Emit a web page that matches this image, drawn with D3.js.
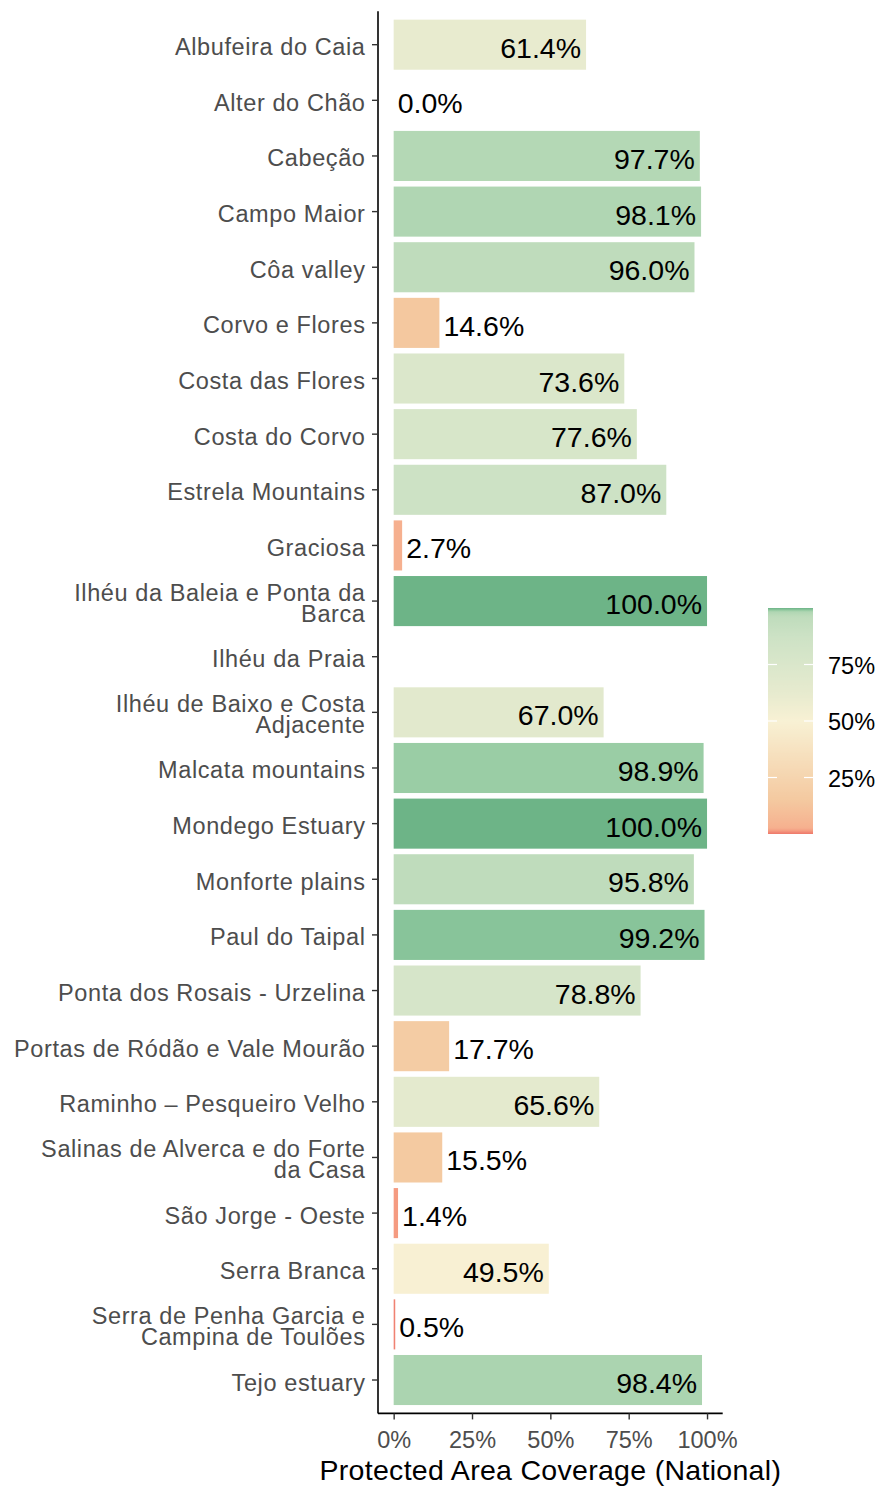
<!DOCTYPE html>
<html>
<head>
<meta charset="utf-8">
<style>
body { margin: 0; background: #ffffff; }
svg { font-family: "Liberation Sans", Arial, sans-serif; }
.axis path, .axis line { fill: none; }
.ylab { fill: #4d4d4d; font-size: 23.5px; letter-spacing: 0.6px; }
.xlab { fill: #4d4d4d; font-size: 23.5px; }
.val { fill: #000000; font-size: 28.5px; }
.title { fill: #000000; font-size: 28.5px; text-anchor: middle; letter-spacing: 0.3px; }
.leglab { fill: #000000; font-size: 23.5px; }
</style>
</head>
<body>
<svg class="chart"></svg>
<script src="https://d3js.org/d3.v7.min.js"></script>
<script>

var sites = [
  "Albufeira do Caia", "Alter do Chão", "Cabeção", "Campo Maior", "Côa valley",
  "Corvo e Flores", "Costa das Flores", "Costa do Corvo", "Estrela Mountains", "Graciosa",
  "Ilhéu da Baleia e Ponta da\nBarca", "Ilhéu da Praia", "Ilhéu de Baixo e Costa\nAdjacente",
  "Malcata mountains", "Mondego Estuary", "Monforte plains", "Paul do Taipal",
  "Ponta dos Rosais - Urzelina", "Portas de Ródão e Vale Mourão", "Raminho – Pesqueiro Velho",
  "Salinas de Alverca e do Forte\nda Casa", "São Jorge - Oeste", "Serra Branca",
  "Serra de Penha Garcia e\nCampina de Toulões", "Tejo estuary"
];
var coverage = [
  61.4, 0.0, 97.7, 98.1, 96.0,
  14.6, 73.6, 77.6, 87.0, 2.7,
  100.0, null, 67.0,
  98.9, 100.0, 95.8, 99.2,
  78.8, 17.7, 65.6,
  15.5, 1.4, 49.5,
  0.5, 98.4
];
var xTicks = [0, 25, 50, 75, 100];
var legendTicks = [25, 50, 75];

var width = 881, height = 1488;
var panelLeft = 378, panelRight = 722.7, panelTop = 11.3, panelBottom = 1413.4;

var data = sites.map((s, i) => ({ site: s, value: coverage[i] }));

var chart = d3.select(".chart")
  .attr("width", width)
  .attr("height", height);

// continuous x with ggplot's 5% expansion
var pad = (panelRight - panelLeft) * 5 / 110;
var x = d3.scaleLinear()
  .domain([0, 100])
  .range([panelLeft + pad, panelRight - pad]);

var y = d3.scaleBand()
  .domain(sites)
  .range([panelTop, panelBottom])
  .paddingInner(0.1)
  .paddingOuter(0.15);

// colour scale: steep at both ends, as in the original
var color = d3.scaleLinear()
  .domain([0, 0.5, 1.4, 2.7, 15, 50, 61.4, 73.6, 87, 96, 98, 98.4, 98.9, 99.2, 100])
  .range(["#ee7a69", "#f08272", "#f59b81", "#f6b08f", "#f4c9a0", "#f8f1d4", "#e8ebcf",
          "#dbe7cb", "#cde2c5", "#bfdcbc", "#b2d7b4", "#abd4b0", "#9acda5", "#88c49a", "#6db487"])
  .clamp(true);

var fmt = d3.format(".1f");

var bars = chart.selectAll(".bar")
    .data(data.filter(d => d.value !== null))
  .enter().append("g")
    .attr("class", "bar");

bars.append("rect")
  .attr("x", x(0))
  .attr("y", d => y(d.site))
  .attr("width", d => x(d.value) - x(0))
  .attr("height", y.bandwidth())
  .attr("fill", d => color(d.value));

bars.append("text")
  .attr("class", "val")
  .attr("x", d => d.value > 30 ? x(d.value) - 5 : x(d.value) + 4)
  .attr("y", d => y(d.site) + y.bandwidth() / 2 + 13)
  .attr("text-anchor", d => d.value > 30 ? "end" : "start")
  .text(d => fmt(d.value) + "%");

// y axis
var yAxis = chart.append("g")
  .attr("class", "y axis")
  .attr("transform", `translate(${panelLeft},0)`)
  .call(d3.axisLeft(y).tickSize(6).tickSizeOuter(0).tickFormat(""));
yAxis.select(".domain").attr("stroke", "#000").attr("stroke-width", 1.6)
  .attr("d", `M0,${panelTop}V${panelBottom}`);
yAxis.selectAll(".tick line").attr("stroke", "#333").attr("stroke-width", 1.4);
yAxis.selectAll(".tick text").remove();
yAxis.selectAll(".tick").each(function(d) {
  var lines = d.split("\n");
  var t = d3.select(this).append("text")
    .attr("class", "ylab")
    .attr("text-anchor", "end");
  lines.forEach((ln, j) => {
    t.append("tspan")
      .attr("x", -12.5)
      .attr("y", 10.5 + (j - (lines.length - 1) / 2) * 21)
      .text(ln);
  });
});

// x axis
var xAxis = chart.append("g")
  .attr("class", "x axis")
  .attr("transform", `translate(0,${panelBottom})`)
  .call(d3.axisBottom(x).tickValues(xTicks).tickSize(6).tickSizeOuter(0).tickFormat(d => d + "%"));
xAxis.select(".domain").attr("stroke", "#000").attr("stroke-width", 1.6)
  .attr("d", `M${panelLeft},0H${panelRight}`);
xAxis.selectAll(".tick line").attr("stroke", "#333").attr("stroke-width", 1.4);
xAxis.selectAll(".tick text")
  .attr("class", "xlab")
  .attr("fill", null)
  .attr("dy", null)
  .attr("y", 35);
xAxis.attr("font-family", null).attr("font-size", null);
yAxis.attr("font-family", null).attr("font-size", null);

chart.append("text")
  .attr("class", "title")
  .attr("x", (panelLeft + panelRight) / 2)
  .attr("y", 1480)
  .text("Protected Area Coverage (National)");

// legend colour bar
var legX = 768, legW = 45;
var legY = d3.scaleLinear().domain([0, 100]).range([834, 608]);

var grad = chart.append("defs").append("linearGradient")
  .attr("id", "leggrad")
  .attr("x1", 0).attr("y1", 1).attr("x2", 0).attr("y2", 0);
grad.selectAll("stop")
  .data(d3.range(0, 100.01, 0.5))
  .enter().append("stop")
    .attr("offset", d => d / 100)
    .attr("stop-color", d => color(d));

chart.append("rect")
  .attr("x", legX)
  .attr("y", legY(100))
  .attr("width", legW)
  .attr("height", legY(0) - legY(100))
  .attr("fill", "url(#leggrad)");

var lt = chart.selectAll(".legtick")
    .data(legendTicks)
  .enter().append("g")
    .attr("class", "legtick");
lt.append("line")
  .attr("x1", legX).attr("x2", legX + 9)
  .attr("y1", d => legY(d)).attr("y2", d => legY(d))
  .attr("stroke", "#fff").attr("stroke-width", 1.2);
lt.append("line")
  .attr("x1", legX + legW - 9).attr("x2", legX + legW)
  .attr("y1", d => legY(d)).attr("y2", d => legY(d))
  .attr("stroke", "#fff").attr("stroke-width", 1.2);
lt.append("text")
  .attr("class", "leglab")
  .attr("x", 828)
  .attr("y", d => legY(d) + 9)
  .text(d => d + "%");

</script>
</body>
</html>
